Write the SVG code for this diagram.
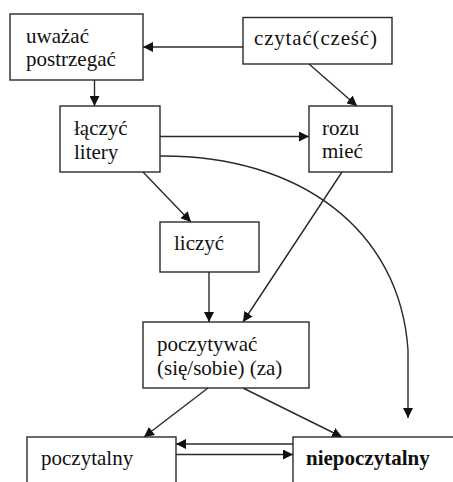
<svg xmlns="http://www.w3.org/2000/svg" width="453" height="482" viewBox="0 0 453 482" font-family="'Liberation Serif', 'DejaVu Serif', serif">
<style>
.box{fill:#fff;stroke:#2a2a2a;stroke-width:1.4}
.t{font-family:'Liberation Serif','DejaVu Serif',serif;font-size:21px;fill:#111}
.b{font-weight:bold}
.c{fill:none;stroke:#2a2a2a;stroke-width:1.4}
</style>
<defs>
<marker id="ah" viewBox="0 0 10 10" refX="10" refY="5" markerWidth="10" markerHeight="10" markerUnits="userSpaceOnUse" orient="auto">
<path d="M0,0 L10,5 L0,10 z" fill="#111"/>
</marker>
</defs>
<rect width="453" height="482" fill="#fff"/>
<g id="connectors">
<line class="c" x1="243" y1="47" x2="143" y2="47" marker-end="url(#ah)"/>
<line class="c" x1="94.5" y1="80" x2="94.5" y2="106" marker-end="url(#ah)"/>
<line class="c" x1="309" y1="64" x2="357" y2="106" marker-end="url(#ah)"/>
<line class="c" x1="160" y1="136.5" x2="309" y2="136.5" marker-end="url(#ah)"/>
<path class="c" d="M160,156 C300,155 400,230 408,350 L408,418" marker-end="url(#ah)"/>
<line class="c" x1="143" y1="172" x2="191" y2="222" marker-end="url(#ah)"/>
<line class="c" x1="342" y1="172" x2="243" y2="322" marker-end="url(#ah)"/>
<line class="c" x1="209" y1="272" x2="209" y2="322" marker-end="url(#ah)"/>
<line class="c" x1="208" y1="388" x2="144" y2="437" marker-end="url(#ah)"/>
<line class="c" x1="243" y1="388" x2="342" y2="437" marker-end="url(#ah)"/>
<line class="c" x1="293" y1="444" x2="176" y2="444" marker-end="url(#ah)"/>
<line class="c" x1="176" y1="454.5" x2="293" y2="454.5" marker-end="url(#ah)"/>
</g>
<g id="uwazac">
<rect class="box" x="10" y="14" width="133" height="66"/>
<text class="t" x="26" y="43" font-family="'Liberation Serif', serif">uważać</text>
<text class="t" x="26" y="65.5" font-family="'Liberation Serif', serif">postrzegać</text>
</g>
<g id="czytac">
<rect class="box" x="243" y="17.5" width="149" height="46.5"/>
<text class="t" x="254" y="45" textLength="123" font-family="'Liberation Serif', serif">czytać(cześć)</text>
</g>
<g id="laczyc">
<rect class="box" x="60" y="106" width="100" height="66"/>
<text class="t" x="74" y="135" font-family="'Liberation Serif', serif">łączyć</text>
<text class="t" x="74" y="159" font-family="'Liberation Serif', serif">litery</text>
</g>
<g id="rozumiec">
<rect class="box" x="309" y="106" width="83" height="66"/>
<text class="t" x="322" y="135" font-family="'Liberation Serif', serif">rozu</text>
<text class="t" x="322" y="158" font-family="'Liberation Serif', serif">mieć</text>
</g>
<g id="liczyc">
<rect class="box" x="160" y="222" width="99" height="50"/>
<text class="t" x="174" y="250" font-family="'Liberation Serif', serif">liczyć</text>
</g>
<g id="poczytywac">
<rect class="box" x="143" y="322" width="166" height="66"/>
<text class="t" x="157" y="351" font-family="'Liberation Serif', serif">poczytywać</text>
<text class="t" x="157" y="374.5" font-family="'Liberation Serif', serif">(się/sobie) (za)</text>
</g>
<g id="poczytalny">
<rect class="box" x="27" y="437" width="149" height="60"/>
<text class="t" x="41" y="465" font-family="'Liberation Serif', serif">poczytalny</text>
</g>
<g id="niepoczytalny">
<rect class="box" x="293" y="437" width="175" height="60"/>
<text class="t b" x="306" y="465" font-family="'Liberation Serif', serif">niepoczytalny</text>
</g>
</svg>
